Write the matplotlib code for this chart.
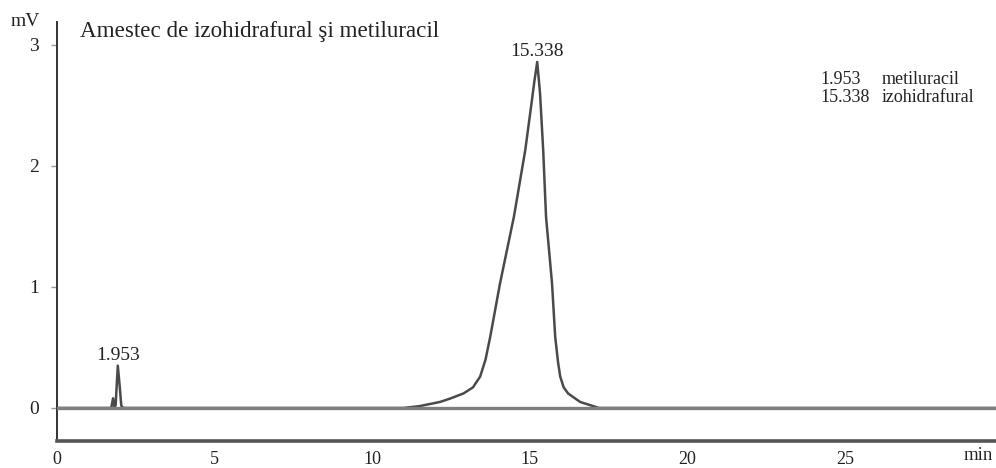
import matplotlib.pyplot as plt

# retention time (min) and detector signal (mV)
time = [0, 1.5, 1.72, 1.78, 1.82, 1.86, 1.93, 1.99, 2.04, 2.1,
        11.0, 11.5, 12.16, 12.5, 12.9, 13.2, 13.43, 13.6, 13.75, 14.06,
        14.5, 14.86, 15.05, 15.15, 15.24, 15.33, 15.43, 15.52, 15.71, 15.81,
        15.9, 15.97, 16.08, 16.22, 16.6, 17.2, 29.8]
signal = [0, 0, 0, 0.08, 0.01, 0.02, 0.35, 0.18, 0.02, 0,
          0, 0.015, 0.05, 0.08, 0.12, 0.17, 0.26, 0.4, 0.59, 1.03,
          1.58, 2.13, 2.5, 2.7, 2.86, 2.6, 2.13, 1.58, 1.03, 0.59,
          0.38, 0.26, 0.17, 0.12, 0.05, 0, 0]

peak_times = [1.953, 15.338]
peak_pos = [1.93, 15.24]
peak_heights = [0.35, 2.86]
peak_names = ["metiluracil", "izohidrafural"]

xticks = [0, 5, 10, 15, 20, 25]
yticks = [0, 1, 2, 3]

plt.rcParams['font.family'] = ['Liberation Serif', 'DejaVu Serif']

fig = plt.figure(figsize=(9.96, 4.68), dpi=100)
ax = fig.add_axes([57 / 996, 1 - 441 / 468, 1 - 57 / 996, (441 - 22) / 468])

ax.plot(time, signal, color='#4a4a4a', lw=1.8, zorder=2)
ax.axhline(0, color='#7f7f7f', lw=2.4, zorder=3)

for pt, px, ph in zip(peak_times, peak_pos, peak_heights):
    ax.text(px, ph + 0.05, f"{pt:.3f}", ha='center', va='baseline', fontsize=14, color='#222222')

ax.set_xlim(0, 29.8)
ax.set_ylim(-0.273, 3.19)

for s in ['top', 'right']:
    ax.spines[s].set_visible(False)
ax.spines['left'].set_color('#333333')
ax.spines['left'].set_linewidth(1.4)
ax.spines['bottom'].set_color('#555555')
ax.spines['bottom'].set_linewidth(2.6)

ax.set_xticks(xticks)
ax.set_yticks(yticks)
ax.tick_params(axis='x', length=0, pad=7.5, labelsize=13, colors='#222222')
ax.tick_params(axis='y', length=4, width=1, color='#999999', pad=9, labelsize=14, labelcolor='#222222')

fig.text(11 / 996, 1 - 21 / 468, "mV", ha='left', va='center', fontsize=14, color='#222222')
fig.text(978 / 996, 1 - 456 / 468, "min", ha='center', va='center', fontsize=13.5, color='#222222')
fig.text(80 / 996, 1 - 31 / 468, "Amestec de izohidrafural şi metiluracil", ha='left', va='center',
         fontsize=16.6, color='#222222')

for i, (pt, name) in enumerate(zip(peak_times, peak_names)):
    y = 1 - (80 + 17 * i) / 468
    fig.text(820 / 996, y, f"{pt:.3f}", ha='left', va='center', fontsize=13, color='#222222')
    fig.text(882 / 996, y, name, ha='left', va='center', fontsize=13, color='#222222')

fig.savefig("out.png", dpi=100)
